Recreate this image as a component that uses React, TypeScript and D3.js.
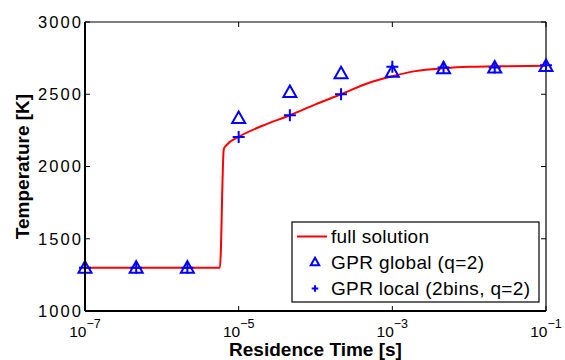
import React from 'react'
import * as d3 from 'd3'

// full solution curve (residence time [s], temperature [K])
const solutionTime = [1e-7, 5.7e-6, 6.4e-6, 7e-6, 1e-5, 2e-5, 4.64e-5, 1e-4, 2.15e-4, 5e-4, 1e-3, 2e-3, 4.64e-3, 1e-2, 2.15e-2, 1e-1]
const solutionTemp = [1300, 1300, 2120, 2150, 2205, 2280, 2355, 2430, 2500, 2580, 2625, 2660, 2680, 2690, 2693, 2697]

// GPR sample points
const sampleTime = [1e-7, 4.64e-7, 2.15e-6, 1e-5, 4.64e-5, 2.15e-4, 1e-3, 4.64e-3, 2.15e-2, 1e-1]
const globalTemp = [1300, 1300, 1300, 2335, 2515, 2645, 2655, 2680, 2685, 2695]
const localTemp = [1300, 1300, 1300, 2205, 2355, 2500, 2690, 2685, 2685, 2700]

const xTicks = [1e-7, 1e-5, 1e-3, 1e-1]
const yTicks = [1000, 1500, 2000, 2500, 3000]
const legendLabels = ['full solution', 'GPR global (q=2)', 'GPR local (2bins, q=2)']
const legendWidths = [98, 153, 199]

const font = '"Liberation Sans", Arial, Helvetica, sans-serif'
const blue = '#0000ff'
const red = '#ff0000'

function Triangle({ x, y, s = 1 }: { x: number; y: number; s?: number }) {
  const w = 6.5 * s
  return (
    <path d={`M${x},${y - 6.5 * s} L${x + w},${y + 5 * s} L${x - w},${y + 5 * s} Z`}
      fill="none" stroke={blue} strokeWidth={2} strokeLinejoin="miter" />
  )
}

function Plus({ x, y, s = 1 }: { x: number; y: number; s?: number }) {
  const h = 6 * s
  return (
    <path d={`M${x - h},${y} H${x + h} M${x},${y - h} V${y + h}`}
      stroke={blue} strokeWidth={2} fill="none" />
  )
}

export default function App() {
  const width = 565
  const height = 360
  const margin = { left: 85, right: 19, top: 22, bottom: 49 }
  const x0 = margin.left
  const x1 = width - margin.right
  const y0 = height - margin.bottom
  const y1 = margin.top

  const x = d3.scaleLog().domain([1e-7, 1e-1]).range([x0, x1])
  const y = d3.scaleLinear().domain([1000, 3000]).range([y0, y1])

  const line = d3.line<number>()
    .x((_, i) => x(solutionTime[i]))
    .y(d => y(d))
    .curve(d3.curveMonotoneX)

  const exponent = (t: number) => Math.round(Math.log10(t))

  // legend box
  const lg = { left: 292, top: 222, right: 539, bottom: 302 }
  const rowY = [243, 268.5, 295]

  return (
    <svg width={width} height={height} style={{ position: 'absolute', left: 0, top: 0, background: '#fff' }}
      fontFamily={font}>
      <rect x={0} y={0} width={width} height={height} fill="#fff" />

      {/* box */}
      <line x1={x0} x2={x1} y1={y1} y2={y1} stroke="#000" strokeWidth={1.2} />
      <line x1={x1} x2={x1} y1={y1} y2={y0} stroke="#000" strokeWidth={1.2} />

      {/* ticks */}
      {xTicks.map((t, i) => (
        <g key={'xt' + i}>
          <line x1={x(t)} x2={x(t)} y1={y0} y2={y0 - 5} stroke="#000" strokeWidth={1} />
          <line x1={x(t)} x2={x(t)} y1={y1} y2={y1 + 5} stroke="#000" strokeWidth={1} />
          <text x={x(t)} y={337} textAnchor="middle" fontSize={15.5} fill="#000">
            10<tspan dy={-9} fontSize={12.5}>{'\u2212' + Math.abs(exponent(t))}</tspan>
          </text>
        </g>
      ))}
      {yTicks.map((t, i) => (
        <g key={'yt' + i}>
          <line x1={x0} x2={x0 + 5} y1={y(t)} y2={y(t)} stroke="#000" strokeWidth={1} />
          <line x1={x1} x2={x1 - 5} y1={y(t)} y2={y(t)} stroke="#000" strokeWidth={1} />
          <text x={81} y={y(t)} dy="0.36em" textAnchor="end" fontSize={16.5}
            textLength={43} lengthAdjust="spacing" fill="#000">{t}</text>
        </g>
      ))}

      {/* full solution */}
      <path d={line(solutionTemp) || ''} fill="none" stroke={red} strokeWidth={2} />

      {/* GPR markers */}
      {sampleTime.map((t, i) => (
        <Triangle key={'g' + i} x={x(t)} y={y(globalTemp[i])} />
      ))}
      {sampleTime.map((t, i) => (
        <Plus key={'l' + i} x={x(t)} y={y(localTemp[i])} />
      ))}

      {/* main axes */}
      <line x1={x0} x2={x1} y1={y0} y2={y0} stroke="#000" strokeWidth={2} />
      <line x1={x0} x2={x0} y1={y1} y2={y0} stroke="#000" strokeWidth={2} />

      {/* axis titles */}
      <text x={(x0 + x1) / 2} y={356} textAnchor="middle" fontSize={19} fontWeight="bold" fill="#000">
        Residence Time [s]
      </text>
      <text transform={`translate(28.5, ${(y0 + y1) / 2}) rotate(-90)`} textAnchor="middle"
        fontSize={19} fontWeight="bold" fill="#000">
        Temperature [K]
      </text>

      {/* legend */}
      <rect x={lg.left} y={lg.top} width={lg.right - lg.left} height={lg.bottom - lg.top}
        fill="#fff" stroke="#000" strokeWidth={1.2} />
      <line x1={297} x2={327} y1={rowY[0] - 6.5} y2={rowY[0] - 6.5} stroke={red} strokeWidth={2} />
      <Triangle x={315} y={rowY[1] - 6.5} s={0.65} />
      <Plus x={315} y={rowY[2] - 6.5} s={0.55} />
      {legendLabels.map((label, i) => (
        <text key={label} x={331} y={rowY[i]} fontSize={19} fill="#000"
          textLength={legendWidths[i]} lengthAdjust="spacing">{label}</text>
      ))}
    </svg>
  )
}
